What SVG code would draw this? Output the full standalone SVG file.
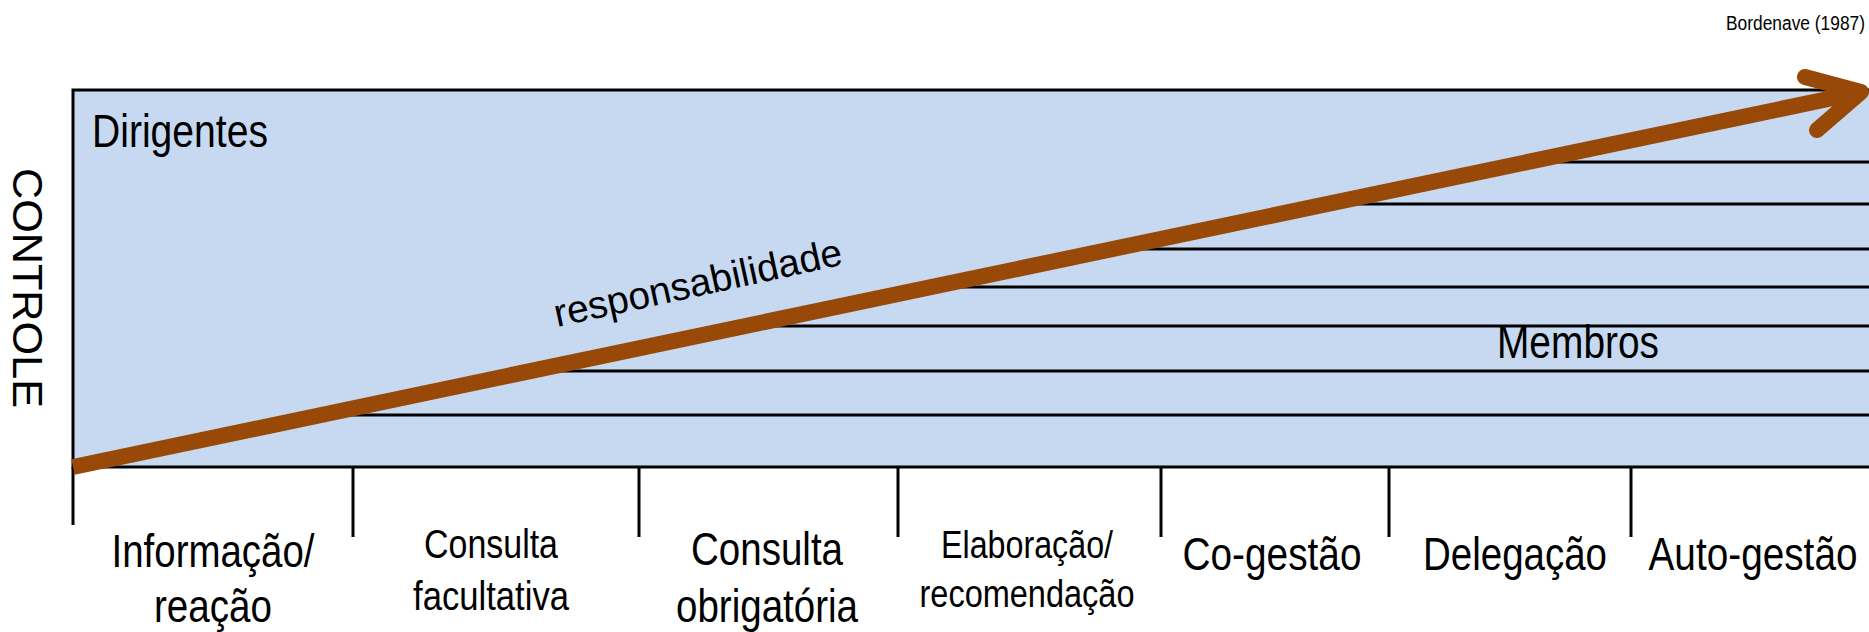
<svg xmlns="http://www.w3.org/2000/svg" width="1869" height="632" viewBox="0 0 1869 632">
<style>
text{font-family:"Liberation Sans",Arial,sans-serif;fill:#000}
.n{font-size:46px;text-anchor:middle}
.rule{stroke:#000;stroke-width:3;fill:none}
.arrow{stroke:#984807;fill:none}
</style>
<rect width="1869" height="632" fill="#fff"/>
<g id="panel">
<rect x="73" y="90" width="1810" height="377" fill="#C6D9F0" stroke="#000" stroke-width="3"/>
<line class="rule" x1="73" y1="467" x2="73" y2="525"/>
</g>
<g id="levels">
<line class="rule" x1="1526" y1="162" x2="1869" y2="162"/>
<line class="rule" x1="1326" y1="204" x2="1869" y2="204"/>
<line class="rule" x1="1112" y1="249" x2="1869" y2="249"/>
<line class="rule" x1="931" y1="287" x2="1869" y2="287"/>
<line class="rule" x1="745" y1="326" x2="1869" y2="326"/>
<line class="rule" x1="530" y1="371" x2="1869" y2="371"/>
<line class="rule" x1="321" y1="415" x2="1869" y2="415"/>
</g>
<g id="ticks">
<line class="rule" x1="353" y1="467" x2="353" y2="537"/>
<line class="rule" x1="639" y1="467" x2="639" y2="537"/>
<line class="rule" x1="898" y1="467" x2="898" y2="537"/>
<line class="rule" x1="1161" y1="467" x2="1161" y2="537"/>
<line class="rule" x1="1389" y1="467" x2="1389" y2="537"/>
<line class="rule" x1="1631" y1="467" x2="1631" y2="537"/>
</g>
<g id="connectors">
<line class="arrow" x1="73" y1="467" x2="1852" y2="94" stroke-width="16"/>
<polyline class="arrow" points="1805,77 1861,92 1817,130" stroke-width="16" stroke-linecap="round" stroke-linejoin="round"/>
</g>
<g id="labels">
<text transform="translate(1865,30) scale(0.81,1)" font-size="20" text-anchor="end" textLength="171.6" lengthAdjust="spacingAndGlyphs">Bordenave (1987)</text>
<text transform="translate(92,147) scale(0.84,1)" font-size="46" textLength="209.5" lengthAdjust="spacingAndGlyphs">Dirigentes</text>
<text class="n" transform="translate(1578,358) scale(0.84,1)" textLength="192.9" lengthAdjust="spacingAndGlyphs">Membros</text>
<text transform="translate(13,168) rotate(90)" font-size="43" textLength="240" lengthAdjust="spacingAndGlyphs">CONTROLE</text>
<text transform="translate(557,327) rotate(-12.3)" font-size="39" textLength="294" lengthAdjust="spacingAndGlyphs">responsabilidade</text>
</g>
<g id="stage1">
<text class="n" transform="translate(213,567) scale(0.84,1)" textLength="241.7" lengthAdjust="spacingAndGlyphs">Informação/</text>
<text class="n" transform="translate(213,622) scale(0.84,1)" textLength="140.5" lengthAdjust="spacingAndGlyphs">reação</text>
</g>
<g id="stage2">
<text class="n" transform="translate(491,558) scale(0.84,1)" style="font-size:41px" textLength="159.5" lengthAdjust="spacingAndGlyphs">Consulta</text>
<text class="n" transform="translate(491,610) scale(0.84,1)" style="font-size:41px" textLength="185.7" lengthAdjust="spacingAndGlyphs">facultativa</text>
</g>
<g id="stage3">
<text class="n" transform="translate(767,565) scale(0.84,1)" textLength="181" lengthAdjust="spacingAndGlyphs">Consulta</text>
<text class="n" transform="translate(767,622) scale(0.84,1)" textLength="216.7" lengthAdjust="spacingAndGlyphs">obrigatória</text>
</g>
<g id="stage4">
<text class="n" transform="translate(1027,558) scale(0.84,1)" style="font-size:39px" textLength="204.8" lengthAdjust="spacingAndGlyphs">Elaboração/</text>
<text class="n" transform="translate(1027,607) scale(0.84,1)" style="font-size:39px" textLength="256" lengthAdjust="spacingAndGlyphs">recomendação</text>
</g>
<g id="stage5">
<text class="n" transform="translate(1272,570) scale(0.84,1)" textLength="213" lengthAdjust="spacingAndGlyphs">Co-gestão</text>
</g>
<g id="stage6">
<text class="n" transform="translate(1515,570) scale(0.84,1)" textLength="219" lengthAdjust="spacingAndGlyphs">Delegação</text>
</g>
<g id="stage7">
<text class="n" transform="translate(1753,570) scale(0.84,1)" textLength="248.8" lengthAdjust="spacingAndGlyphs">Auto-gestão</text>
</g>
</svg>
